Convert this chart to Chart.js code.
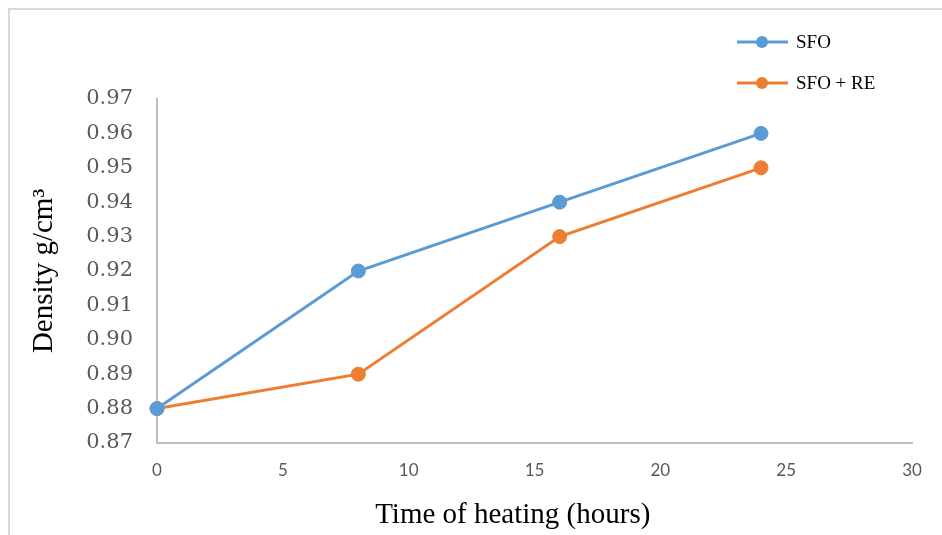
<!DOCTYPE html>
<html>
<head>
<meta charset="utf-8">
<script src="https://cdn.jsdelivr.net/npm/chart.js@4"></script>
<style>
    body { margin: 0; background: #fff; }
    #wrap { position: relative; width: 942px; height: 535px; }
    #frame {
        position: absolute; left: 8px; top: 8px; right: 0; bottom: 0;
        border-top: 2px solid #d9d9d9; border-left: 2px solid #d9d9d9;
    }
    canvas { position: absolute; left: 0; top: 0; }
</style>
</head>
<body>
<div id="wrap">
    <div id="frame"></div>
    <canvas id="densityChart" width="942" height="535"></canvas>
</div>
<script>
// Data
const hours = [0, 8, 16, 24];
const sfo = [0.88, 0.92, 0.94, 0.96];
const sfoRe = [0.88, 0.89, 0.93, 0.95];
const seriesNames = ['SFO', 'SFO + RE'];
const seriesColors = ['#5b9bd5', '#ed7d31'];

const toPoints = (ys) => hours.map((x, i) => ({ x, y: ys[i] }));

// Legend drawn top right, stacked like the Excel one
const stackedLegend = {
    id: 'stackedLegend',
    afterDraw(chart) {
        const ctx = chart.ctx;
        ctx.save();
        chart.data.datasets.forEach((ds, i) => {
            const y = 42 + i * 41;
            ctx.strokeStyle = ds.borderColor;
            ctx.lineWidth = 3;
            ctx.beginPath();
            ctx.moveTo(737, y);
            ctx.lineTo(788, y);
            ctx.stroke();
            ctx.fillStyle = ds.borderColor;
            ctx.beginPath();
            ctx.arc(762, y, 6, 0, Math.PI * 2);
            ctx.fill();
            ctx.fillStyle = '#000';
            ctx.font = '19px "Liberation Serif"';
            ctx.textBaseline = 'middle';
            ctx.fillText(ds.label, 796, y + 1);
        });
        ctx.restore();
    }
};

const datasets = [sfo, sfoRe].map((ys, i) => ({
    label: seriesNames[i],
    data: toPoints(ys),
    borderColor: seriesColors[i],
    backgroundColor: seriesColors[i],
    borderWidth: 3,
    pointRadius: 7,
    pointBorderWidth: 1,
    tension: 0,
    clip: false
}));

new Chart(document.getElementById('densityChart'), {
    type: 'line',
    data: { datasets },
    options: {
        responsive: false,
        animation: false,
        devicePixelRatio: 1,
        layout: { padding: { top: 99, right: 30, bottom: 0, left: 0 } },
        plugins: {
            legend: { display: false },
            tooltip: { enabled: false }
        },
        scales: {
            x: {
                type: 'linear',
                min: 0,
                max: 30,
                grid: { display: false, drawTicks: false },
                border: { display: true, color: '#bfbfbf', width: 2 },
                ticks: {
                    stepSize: 5,
                    padding: 17,
                    color: '#595959',
                    font: { family: 'Lato', size: 17 }
                },
                title: {
                    display: true,
                    // trailing spaces nudge the centred title left, as in the original
                    text: 'Time of heating (hours)      ',
                    color: '#000',
                    font: { family: 'Liberation Serif', size: 29 },
                    padding: { top: 0, bottom: 2 }
                },
                afterFit(scale) { scale.height = 92; }
            },
            y: {
                min: 0.87,
                max: 0.97,
                grid: { display: false, drawTicks: false },
                border: { display: true, color: '#bfbfbf', width: 2 },
                ticks: {
                    stepSize: 0.01,
                    padding: 24,
                    color: '#595959',
                    font: { family: 'DejaVu Serif', size: 21 },
                    callback: (v) => v.toFixed(2)
                },
                title: {
                    display: true,
                    text: 'Density g/cm³',
                    color: '#000',
                    font: { family: 'Liberation Serif', size: 29 },
                    padding: { top: 27, bottom: 0 }
                },
                afterFit(scale) { scale.width = 157; }
            }
        }
    },
    plugins: [stackedLegend]
});
</script>
</body>
</html>
